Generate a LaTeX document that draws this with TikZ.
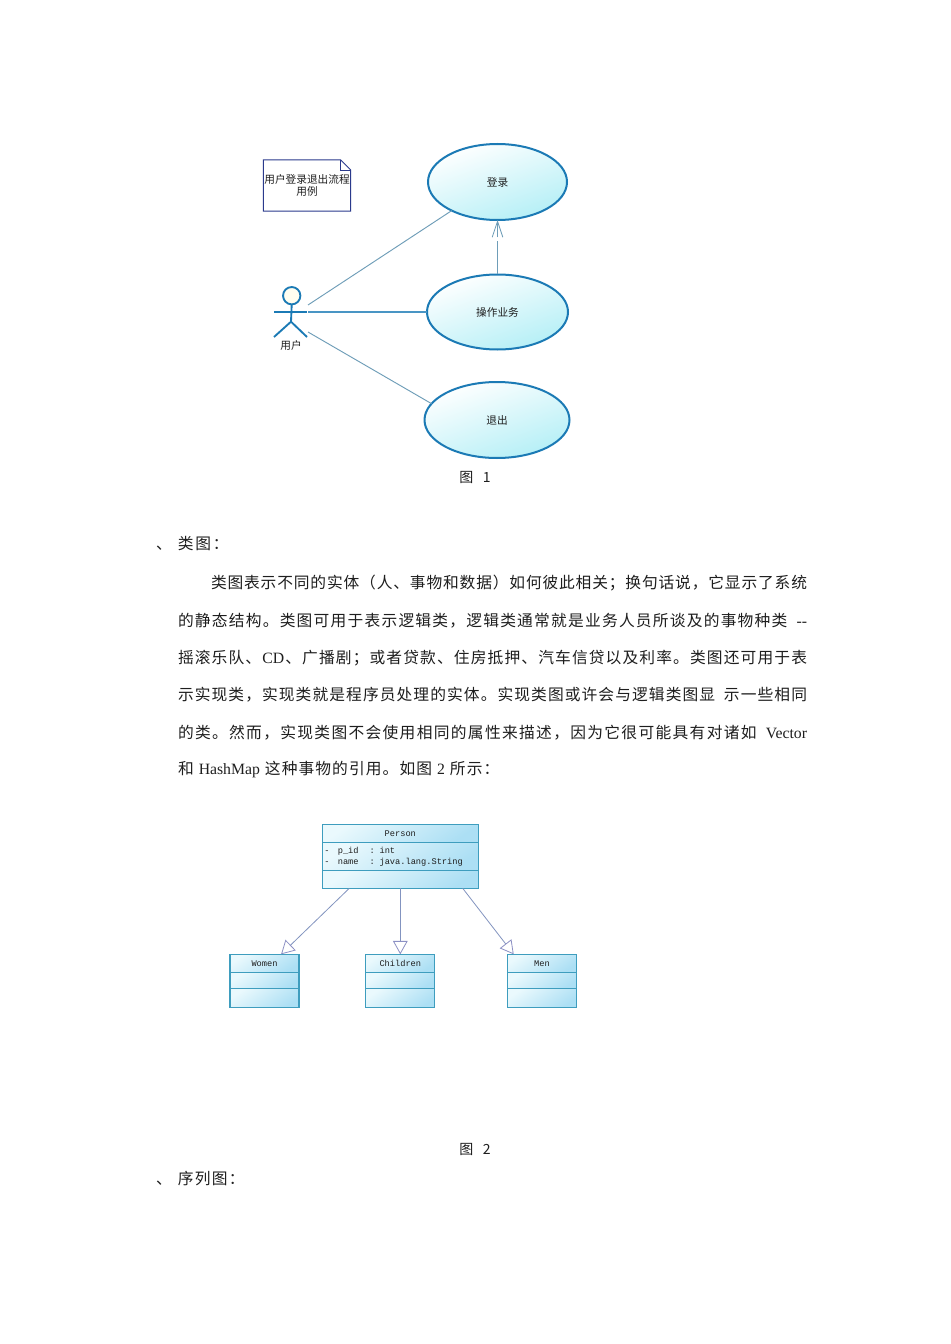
\documentclass[tikz,border=0pt]{standalone}
\usepackage{fontspec}
\setmainfont{Noto Sans CJK SC}
\setmonofont{Liberation Mono}
\newfontfamily\latfont{Liberation Serif}
\usetikzlibrary{positioning, arrows.meta, shapes.geometric, calc}
\definecolor{usecaseline}{HTML}{1B7AB5}
\definecolor{usecasefill}{HTML}{B4EFF6}
\definecolor{linkline}{HTML}{6E9DB8}
\definecolor{notenavy}{HTML}{2A3A8C}
\definecolor{classline}{HTML}{3E9DBE}
\definecolor{classpale}{HTML}{EAF9FD}
\definecolor{classfill}{HTML}{ACDFF4}
\definecolor{inherit}{HTML}{8C90C4}
\definecolor{inkdark}{HTML}{1E1E1E}
\makeatletter
\newcommand{\fillto}[2]{\hbox to #1pt{\@tfor\nextchar:=#2\do{{\nextchar}\hfil}\unskip}}
\makeatother
\newcommand{\attrrow}[2]{\makebox[10pt][l]{-}\makebox[23.8pt][l]{#1}\makebox[7.5pt][l]{:}#2}
\tikzset{
  usecase/.style={ellipse, draw=usecaseline, line width=1.5pt, shading=axis, top color=white, bottom color=usecasefill, shading angle=20, inner sep=0pt, outer sep=0pt, font=\fontsize{8}{9}\selectfont, text=inkdark},
  actorline/.style={draw=usecaseline, line width=1.4pt},
  assoc/.style={draw=linkline, line width=0.7pt},
  depend/.style={draw=linkline, line width=0.6pt, dash pattern=on 24.75pt off 3pt, -{Straight Barb[length=12pt, width=8pt]}},
  classpart/.style={rectangle, draw=classline, line width=0.8pt, shading=axis, top color=classpale, bottom color=classfill, shading angle=35, inner sep=0pt, outer sep=0pt, font=\ttfamily\fontsize{6.5}{8.8}\selectfont, text=inkdark},
  inheritance/.style={draw=inherit!70!linkline, line width=0.6pt, -{Triangle[open, length=10pt, width=11pt, color=inherit, fill=white]}},
  bodyline/.style={anchor=west, inner sep=0pt, outer sep=0pt, font=\fontsize{11.8}{14}\selectfont, text=inkdark},
  caption/.style={inner sep=0pt, font=\fontsize{10.5}{12}\selectfont, text=inkdark},
}
\begin{document}
\begin{tikzpicture}[x=0.75pt, y=-0.75pt, node distance=0pt]
  \useasboundingbox[fill=white] (0,0) rectangle (950,1344);

  % Use case picture
  \node[minimum width=65pt, minimum height=38pt, inner sep=0pt, align=center, font=\fontsize{8}{9}\selectfont, text=inkdark] (note) at (307,185.5) {用户登录退出流程\\用例};
  \draw[draw=notenavy, line width=0.7pt] (note.north west) -- ($(note.north east)+(-10,0)$) -- ($(note.north east)+(0,10)$) -- (note.south east) -- (note.south west) -- cycle;
  \draw[draw=notenavy, line width=0.5pt] ($(note.north east)+(-10,0)$) -- ($(note.north east)+(-10,10)$) -- ($(note.north east)+(0,10)$);

  \node[usecase, minimum width=104.25pt, minimum height=57pt] (login) at (497.5,182) {登录};
  \node[usecase, minimum width=105.75pt, minimum height=56.25pt] (work) at (497.5,312) {操作业务};
  \node[usecase, minimum width=108.75pt, minimum height=57pt] (logout) at (497,420) {退出};

  % Actor
  \node[circle, actorline, fill=yellow!6, minimum size=13pt, inner sep=0pt, outer sep=0pt] (head) at (291.7,295.7) {};
  \node[font=\fontsize{8}{9}\selectfont, text=inkdark, inner sep=0pt] (actorname) at (291,345) {用户};
  \coordinate (armleft) at (274,311.7);
  \coordinate (armright) at (307,311.7);
  \coordinate (hip) at (291,321.7);
  \coordinate (footleft) at (274,337);
  \coordinate (footright) at (307,337);
  \draw[actorline] (head.south) -- (hip);
  \draw[actorline] (armleft) -- (armright);
  \draw[actorline] (footleft) -- (hip) -- (footright);

  \coordinate (linkup) at (308,305);
  \coordinate (linkmid) at (308,312);
  \coordinate (linkdown) at (308,332);
  \draw[assoc] (linkup) -- (login.212);
  \draw[assoc, line width=0.9pt, draw=usecaseline!80] (linkmid) -- (work.west);
  \draw[assoc] (linkdown) -- (logout.166);
  \draw[depend] (work.north) -- (login.south);

  \node[caption] (figone) at (475,477) {图\ \ \ 1};

  % Text
  \node[bodyline] (headclass) at (156,544) {\makebox[16.5pt][l]{、}\fillto{38}{类图：}};
  \node[bodyline] (line1) at (211,583) {\fillto{447}{类图表示不同的实体（人、事物和数据）如何彼此相关；换句话说，它显示了系统}};
  \node[bodyline] (line2) at (178,620.5) {\fillto{471.75}{的静态结构。类图可用于表示逻辑类，逻辑类通常就是业务人员所谈及的事物种类{\hspace{5pt}}{\latfont --}}};
  \node[bodyline] (line3) at (178,658) {\fillto{471.75}{摇滚乐队、{\latfont CD}、广播剧；或者贷款、住房抵押、汽车信贷以及利率。类图还可用于表}};
  \node[bodyline] (line4) at (178,695) {\fillto{471.75}{示实现类，实现类就是程序员处理的实体。实现类图或许会与逻辑类图显{\hspace{5pt}}示一些相同}};
  \node[bodyline] (line5) at (178,732.5) {\fillto{471.75}{的类。然而，实现类图不会使用相同的属性来描述，因为它很可能具有对诸如{\hspace{5pt}}{\latfont Vector}}};
  \node[bodyline] (line6) at (178,770) {\fillto{241}{和{\latfont\ HashMap\ }这种事物的引用。如图{\latfont\ 2\ }所示：}};

  % Class picture
  \node[classpart, minimum width=117pt, minimum height=13.8pt] (person) at (400.3,833.5) {Person};
  \node[classpart, minimum width=117pt, minimum height=21pt, below=of person, align=left] (personattr) {\hspace*{-10pt}\begin{tabular}{@{}l@{}}\attrrow{p\_id}{int}\\\attrrow{name}{java.lang.String}\end{tabular}};
  \node[classpart, minimum width=117pt, minimum height=13.2pt, below=of personattr] (personops) {};

  \node[classpart, minimum width=51.75pt, minimum height=13.8pt] (women) at (264.5,963.5) {Women};
  \node[classpart, minimum width=51.75pt, minimum height=12pt, below=of women] (womenattr) {};
  \node[classpart, minimum width=51.75pt, minimum height=14pt, below=of womenattr] (womenops) {};

  \node[classpart, minimum width=51.75pt, minimum height=13.8pt] (children) at (400.3,963.5) {Children};
  \node[classpart, minimum width=51.75pt, minimum height=12pt, below=of children] (childrenattr) {};
  \node[classpart, minimum width=51.75pt, minimum height=14pt, below=of childrenattr] (childrenops) {};

  \node[classpart, minimum width=51.75pt, minimum height=13.8pt] (men) at (542,963.5) {Men};
  \node[classpart, minimum width=51.75pt, minimum height=12pt, below=of men] (menattr) {};
  \node[classpart, minimum width=51.75pt, minimum height=14pt, below=of menattr] (menops) {};

  \draw[inheritance] ($(personops.south west)!0.173!(personops.south east)$) -- ($(women.north west)!0.74!(women.north east)$);
  \draw[inheritance] (personops.south) -- (children.north);
  \draw[inheritance] ($(personops.south west)!0.9!(personops.south east)$) -- ($(men.north west)!0.09!(men.north east)$);

  \node[caption] (figtwo) at (475,1149) {图\ \ \ 2};
  \node[bodyline] (headseq) at (156,1179) {\makebox[16.5pt][l]{、}\fillto{50}{序列图：}};
\end{tikzpicture}
\end{document}
